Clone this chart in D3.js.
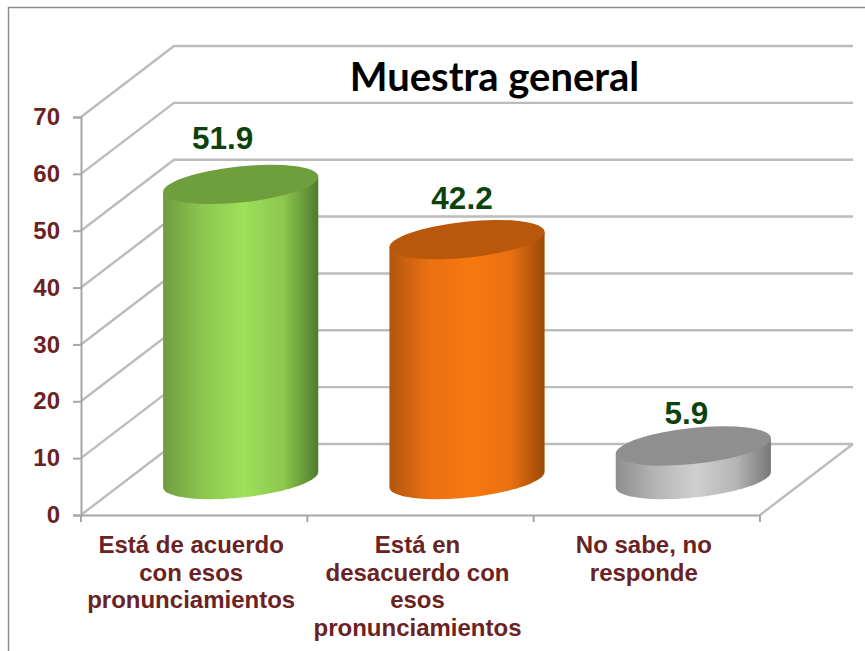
<!DOCTYPE html>
<html>
<head>
<meta charset="utf-8">
<script src="https://cdn.jsdelivr.net/npm/d3@7"></script>
<style>
  html, body { margin: 0; padding: 0; background: #fff; overflow: hidden; }
</style>
</head>
<body>
<div id="chart"></div>
<script>
const categories = ["acuerdo", "desacuerdo", "nosabe"];
const values = [51.9, 42.2, 5.9];
const valueLabels = ["51.9", "42.2", "5.9"];
const yTicks = [0, 10, 20, 30, 40, 50, 60, 70];
const categoryLines = [
    ["Está de acuerdo", "con esos", "pronunciamientos"],
    ["Está en", "desacuerdo con", "esos", "pronunciamientos"],
    ["No sabe, no", "responde"]
];
// edge, left, centre, dark right edge, top cap
const barColors = [
    ["#6f9c42", "#8cc64e", "#9ee05a", "#4f7a2c", "#6f9e3c"],
    ["#b3560f", "#ea7012", "#f8780f", "#9a4a08", "#b9570b"],
    ["#8e8e8e", "#b4b4b4", "#cfcfcf", "#777777", "#8f8f8f"]
];

const width = 865, height = 651;
const depth = {x: 93, y: -71};
const fontArial = "'Liberation Sans', Arial, sans-serif";

const svg = d3.select("#chart").append("svg")
    .attr("width", width)
    .attr("height", height)
    .style("display", "block");

const defs = svg.append("defs");
barColors.forEach((c, i) => {
    const g = defs.append("linearGradient").attr("id", "bar" + i);
    [[0, c[0]], [0.25, c[1]], [0.52, c[2]], [0.78, c[1]], [1, c[3]]].forEach(s => {
        g.append("stop").attr("offset", s[0]).attr("stop-color", s[1]);
    });
});

// Outer frame
svg.append("path")
    .attr("d", `M8.5,${height} V7.5 H${width}`)
    .attr("fill", "none")
    .attr("stroke", "#8c8c8c")
    .attr("stroke-width", 1.5);

const x = d3.scaleBand().domain(categories).range([81, 760]);
const y = d3.scaleLinear().domain([0, 70]).range([515, 117]);

// Walls: side wall diagonals and back wall lines
const walls = svg.append("g")
    .attr("fill", "none")
    .attr("stroke", "#bcbcbc")
    .attr("stroke-width", 2.4);

yTicks.forEach(t => {
    walls.append("path").attr("d", d3.line()([
        [x.range()[0], y(t)],
        [x.range()[0] + depth.x, y(t) + depth.y],
        [x.range()[1] + depth.x, y(t) + depth.y]
    ]));
});
walls.append("path").attr("d", d3.line()([
    [x.range()[1], y(0)],
    [x.range()[1] + depth.x, y(0) + depth.y]
]));

// Axes
const yAxis = svg.append("g")
    .attr("transform", `translate(${x.range()[0]},0)`)
    .call(d3.axisLeft(y).tickValues(yTicks).tickSize(8).tickPadding(13));
const xAxis = svg.append("g")
    .attr("transform", `translate(0,${y(0)})`)
    .call(d3.axisBottom(x).tickValues([]).tickSize(0));
[...x.domain().map(d => x(d)), x.range()[1]].forEach(p => {
    xAxis.append("line").attr("x1", p).attr("x2", p).attr("y1", 0).attr("y2", 7);
});
svg.selectAll(".domain, .tick line, g line")
    .attr("stroke", "#a6a6a6")
    .attr("stroke-width", 2);
yAxis.selectAll("text")
    .attr("fill", "#6b2222")
    .style("font-family", fontArial)
    .style("font-weight", "bold")
    .style("font-size", "24px");

// Cylinders: base sits halfway into the floor depth
const rx = 78, ry = 18, tilt = -6;
const rad = tilt * Math.PI / 180;
const rimPoint = t => [
    rx * Math.cos(t) * Math.cos(rad) - ry * Math.sin(t) * Math.sin(rad),
    rx * Math.cos(t) * Math.sin(rad) + ry * Math.sin(t) * Math.cos(rad)
];
// angle of the rim point where the side of the cylinder leaves it
const tangent = Math.atan(-(ry / rx) * Math.tan(rad));
const lowerRim = d3.range(0, 41).map(k => rimPoint(tangent + Math.PI * k / 40));

const bars = svg.append("g").selectAll("g")
    .data(categories)
    .join("g")
    .attr("transform", d => `translate(${x(d) + x.bandwidth() / 2 + depth.x / 2},${depth.y / 2})`);

bars.append("path")
    .attr("fill", (d, i) => `url(#bar${i})`)
    .attr("d", (d, i) => {
        const capY = y(values[i]), baseY = y(0);
        const pts = lowerRim.map(p => [p[0], p[1] + baseY]);
        const first = lowerRim[0], last = lowerRim[lowerRim.length - 1];
        return d3.line()([
            [first[0], first[1] + capY],
            ...pts,
            [last[0], last[1] + capY]
        ]) + "Z";
    });

bars.append("ellipse")
    .attr("rx", rx)
    .attr("ry", ry)
    .attr("transform", (d, i) => `translate(0,${y(values[i])}) rotate(${tilt})`)
    .attr("fill", (d, i) => barColors[i][4]);

// Value labels, nudged by hand like the original
const labelDx = [-18, -5, -7];
const labelDy = [-35, -31, -22];
bars.append("text")
    .attr("x", (d, i) => labelDx[i])
    .attr("y", (d, i) => y(values[i]) + labelDy[i])
    .attr("text-anchor", "middle")
    .attr("fill", "#0c420c")
    .style("font-family", fontArial)
    .style("font-weight", "bold")
    .style("font-size", "31.5px")
    .text((d, i) => valueLabels[i]);

// Category labels
const catText = svg.append("g").selectAll("text")
    .data(categories)
    .join("text")
    .attr("text-anchor", "middle")
    .attr("fill", "#6b2222")
    .style("font-family", fontArial)
    .style("font-weight", "bold")
    .style("font-size", "24px");
catText.each(function (d, i) {
    d3.select(this).selectAll("tspan")
        .data(categoryLines[i])
        .join("tspan")
        .attr("x", x(d) + x.bandwidth() / 2 - 3)
        .attr("y", (l, j) => 553 + j * 27.5)
        .text(l => l);
});

// Title
svg.append("text")
    .attr("x", 494.5)
    .attr("y", 91)
    .attr("text-anchor", "middle")
    .attr("fill", "#000")
    .style("font-family", "Lato, 'Open Sans', sans-serif")
    .style("font-weight", "bold")
    .style("font-size", "40px")
    .text("Muestra general");
</script>
</body>
</html>
